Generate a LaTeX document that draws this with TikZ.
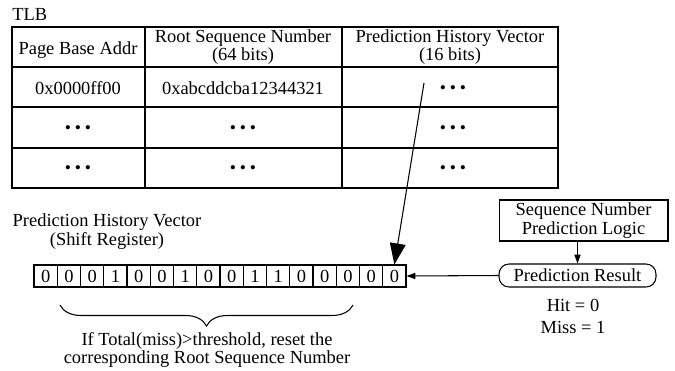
\documentclass[tikz,border=0pt]{standalone}
\usepackage{fontspec}
\setmainfont{Liberation Serif}
\usepackage{tikz}
\usetikzlibrary{positioning,calc,arrows.meta,decorations.pathreplacing}

\newcommand{\rowdots}{\scalebox{0.95}{\textbullet\hspace{0.22em}\textbullet\hspace{0.22em}\textbullet}}

\begin{document}
\begin{tikzpicture}[x=0.02cm,y=-0.02cm,
    every node/.style={font=\fontsize{10.5}{9}\selectfont, inner sep=0pt},
    bitcell/.style={draw, line width=0.6pt, minimum width=0.465cm, minimum height=0.44cm},
    logicbox/.style={draw, line width=0.6pt, minimum width=3.38cm, minimum height=0.82cm, align=center},
    resultbox/.style={draw, line width=0.6pt, rounded corners=0.2cm, minimum width=3.14cm, minimum height=0.46cm},
    tline/.style={line width=0.8pt}]
    \useasboundingbox (0,0) rectangle (675,371);

    % TLB table
    \node[anchor=west] (tlb) at (12,14) {TLB};
    \draw[tline] (12,27) rectangle (558,188);
    \draw[tline] (12,67) -- (558,67);
    \draw[tline] (12,107) -- (558,107);
    \draw[tline] (12,148) -- (558,148);
    \draw[tline] (145,27) -- (145,188);
    \draw[tline] (342,27) -- (342,188);
    \node (hdaddr) at (78,50) {Page Base Addr};
    \node[align=center] (hdroot) at (243,47) {Root Sequence Number\\(64 bits)};
    \node[align=center] (hdhist) at (450,47) {Prediction History Vector\\(16 bits)};
    \node (addr) at (78,88) {0x0000ff00};
    \node (root) at (243,88) {0xabcddcba12344321};
    \node (hist) at (453,90) {\rowdots};
    \node (addrb) at (78,130) {\rowdots};
    \node (rootb) at (243,130) {\rowdots};
    \node (histb) at (453,130) {\rowdots};
    \node (addrc) at (78,170) {\rowdots};
    \node (rootc) at (243,170) {\rowdots};
    \node (histc) at (453,170) {\rowdots};
    \coordinate (histsrc) at (424,83);

    % shift register
    \node[align=center, font=\fontsize{10.5}{10.8}\selectfont] (reglabel) at (107,232) {Prediction History Vector\\(Shift Register)};
    \foreach \b [count=\i] in {0,0,0,1,0,0,1,0,0,1,1,0,0,0,0,0}
        \node[bitcell] (b\i) at ({34+23.25*(\i-0.5)},276) {\b};
    \draw[-{Triangle[length=12pt,width=9pt]}, line width=0.6pt] (histsrc) -- (b16.north);

    % prediction logic
    \node[logicbox] (logic) at (583.5,220.5) {Sequence Number\\Prediction Logic};
    \node[resultbox] (result) at (577.5,275.5) {Prediction Result};
    \draw[-{Triangle[length=5pt,width=3.5pt]}, line width=0.6pt] (result.north |- logic.south) -- (result.north);
    \draw[-{Triangle[length=5pt,width=3.5pt]}, line width=0.6pt] (result.west) -- (b16.east);
    \node (hit) at (573,305) {Hit = 0};
    \node (miss) at (573,327) {Miss = 1};

    % brace
    \draw[line width=0.6pt, decorate, decoration={brace, mirror, amplitude=0.42cm}] (60,305) -- (353,305);
    \node[align=center] (bracetext) at (207,350) {If Total(miss)>threshold, reset the\\corresponding Root Sequence Number};
\end{tikzpicture}
\end{document}
